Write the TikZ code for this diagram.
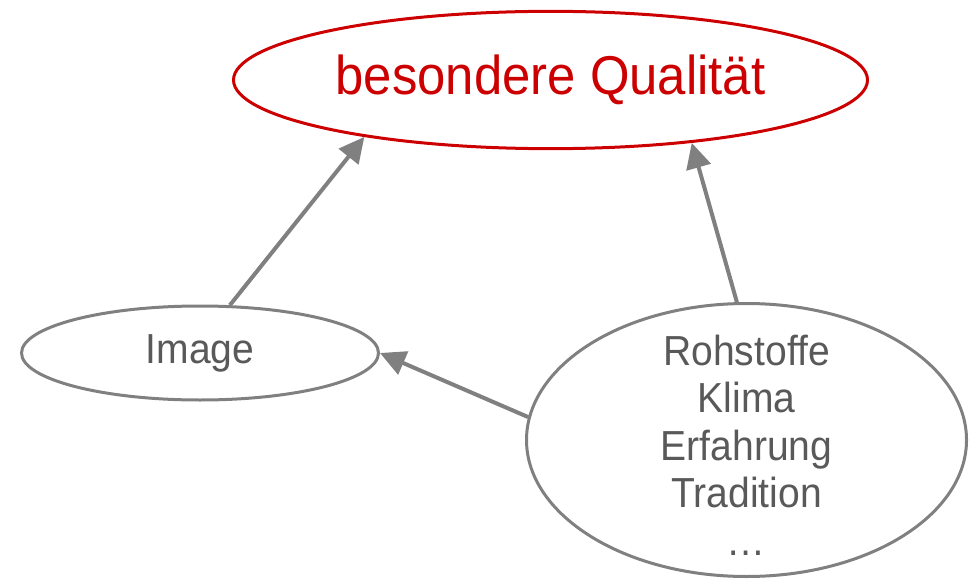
\documentclass[tikz,border=0pt]{standalone}
\usepackage{fontspec}
\setmainfont[FakeStretch=0.93]{Liberation Sans}
\usetikzlibrary{shapes.geometric,arrows.meta}
\definecolor{qred}{RGB}{204,0,0}
\definecolor{lgray}{RGB}{128,128,128}
\definecolor{tgray}{RGB}{89,89,89}

\begin{document}
\begin{tikzpicture}[x=0.75pt,y=0.75pt,
  blob/.style={ellipse, draw=lgray, line width=2.25pt, inner sep=0pt, text=tgray, font=\fontsize{31.5}{35.6}\selectfont},
  arr/.style={draw=lgray, line width=3pt, -{Triangle[length=19pt,width=18.5pt]}}]
  \useasboundingbox (0,0) rectangle (973,579);

  \node[ellipse, draw=qred, line width=2.25pt, inner sep=0pt, minimum width=475.5pt, minimum height=103pt,
        text=qred, font=\fontsize{41}{49}\selectfont] (quali) at (550.5,499) {besondere Qualität};
  \node[blob, minimum width=267.75pt, minimum height=70.5pt] (image) at (200,226) {Image};
  \node[blob, minimum width=330pt, minimum height=204.75pt] (rest) at (746.5,139) {};
  \node[text=tgray, align=center, font=\fontsize{31.5}{35.6}\selectfont] (resttext) at (746.5,134)
    {Rohstoffe\\Klima\\Erfahrung\\Tradition\\…};

  \draw[arr] (image.58) -- (quali.197);
  \draw[arr] (rest.94) -- (quali.336);
  \draw[arr] (rest.174) -- (image.east);
\end{tikzpicture}
\end{document}
